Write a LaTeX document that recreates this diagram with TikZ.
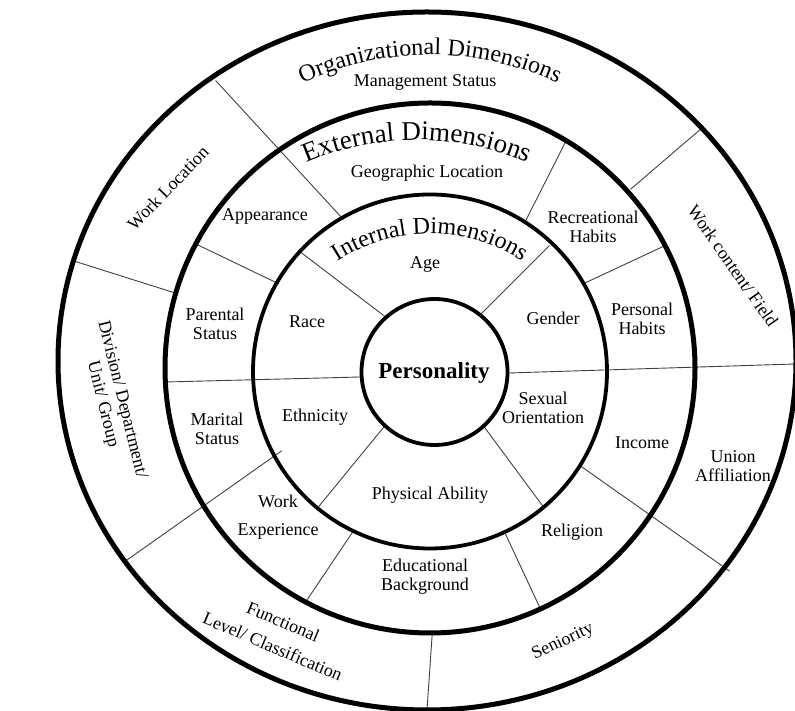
\documentclass[tikz,border=0pt]{standalone}
\usepackage{fontspec}
\setmainfont{Liberation Serif}
\usetikzlibrary{decorations.text}

\begin{document}
\begin{tikzpicture}[x=1pt,y=1pt,
    ring/.style={line width=5pt},
    thinring/.style={line width=3.8pt},
    divider/.style={line width=0.9pt,black!75,shorten <=-2pt,shorten >=-2pt},
    lbl/.style={inner sep=0pt,align=center,font=\fontsize{18}{19}\selectfont},
    arctitle/.style 2 args={decorate,decoration={text along path,text align=center,
        text={|\fontsize{#2}{#2}\selectfont|#1}}}]
    \useasboundingbox (0,0) rectangle (795,711);
    % dividers between the fields
    \foreach \n/\a/\b in {agerace/{383,396}/{303,457}, agegender/{482,398}/{548,464},
        leftmid/{360,334}/{166,329}, rightmid/{509,338}/{795,347},
        ethphys/{383,283}/{320,206}, physsex/{485,283}/{542,206},
        relinc/{582,244}/{728,141}, georec/{525,489}/{565,568},
        recpers/{585,428}/{662,464}, appgeo/{342,493}/{217,629},
        apppar/{277,428}/{198,466}, marwork/{280,259}/{127,151},
        workedu/{352,178}/{307,111}, edurel/{505,178}/{540,103},
        locdiv/{172,419}/{77,449}, funcsen/{432,74}/{427,1},
        mgmtfield/{632,523}/{702,583}}{
      \coordinate (\n-a) at (\a);
      \coordinate (\n-b) at (\b);
      \draw[divider] (\n-a) -- (\n-b);
    }
    % rings
    \draw[ring] (427,350) ellipse [x radius=369,y radius=349];
    \draw[ring] (430,343) circle [radius=265];
    \draw[thinring] (430,339.5) circle [radius=177];
    \draw[thinring] (434.5,339) circle [radius=73];
    % arched titles
    \coordinate (orgc) at (430,353);
    \coordinate (extc) at (417,291);
    \coordinate (intc) at (430,307);
    \path[arctitle={Organizational Dimensions}{24}] ([shift=(140:303)] orgc) arc[start angle=140,end angle=40,radius=303];
    \path[arctitle={External Dimensions}{27}] ([shift=(140:280)] extc) arc[start angle=140,end angle=40,radius=280];
    \path[arctitle={Internal Dimensions}{24}] ([shift=(150:170)] intc) arc[start angle=150,end angle=30,radius=170];
    % labels
    \node[lbl,font=\fontsize{23}{25}\selectfont\bfseries] (pers) at (434,338) {Personality};
    \node[lbl] (mgmt) at (425,629) {Management Status};
    \node[lbl] (geo) at (427,538) {Geographic Location};
    \node[lbl] (age) at (425,446) {Age};
    \node[lbl,rotate=46] (loc) at (168,523) {Work Location};
    \node[lbl] (app) at (265,495) {Appearance};
    \node[lbl] (par) at (215,387) {Parental\\Status};
    \node[lbl] (race) at (307,389) {Race};
    \node[lbl] (rec) at (593,484) {Recreational\\Habits};
    \node[lbl] (gen) at (553,393) {Gender};
    \node[lbl] (perh) at (642,392) {Personal\\Habits};
    \node[lbl,rotate=-55] (field) at (733,445) {Work content/ Field};
    \node[lbl,rotate=-76] (div) at (112,309) {Division/ Department/\\[1pt]Unit/ Group};
    \node[lbl] (mar) at (217,282) {Marital\\Status};
    \node[lbl] (eth) at (315,294) {Ethnicity};
    \node[lbl] (sex) at (543,303) {Sexual\\Orientation};
    \node[lbl] (inc) at (642,268) {Income};
    \node[lbl] (uni) at (733,245) {Union\\Affiliation};
    \node[lbl] (phys) at (430,216) {Physical Ability};
    \node[lbl] (wexp) at (278,194) {Work\\[9pt]Experience};
    \node[lbl] (rel) at (572,179) {Religion};
    \node[lbl] (edu) at (425,134) {Educational\\Background};
    \node[lbl,rotate=-23] (func) at (278,77) {Functional\\[8pt]Level/ Classification};
    \node[lbl,rotate=25] (sen) at (563,69) {Seniority};
\end{tikzpicture}
\end{document}
